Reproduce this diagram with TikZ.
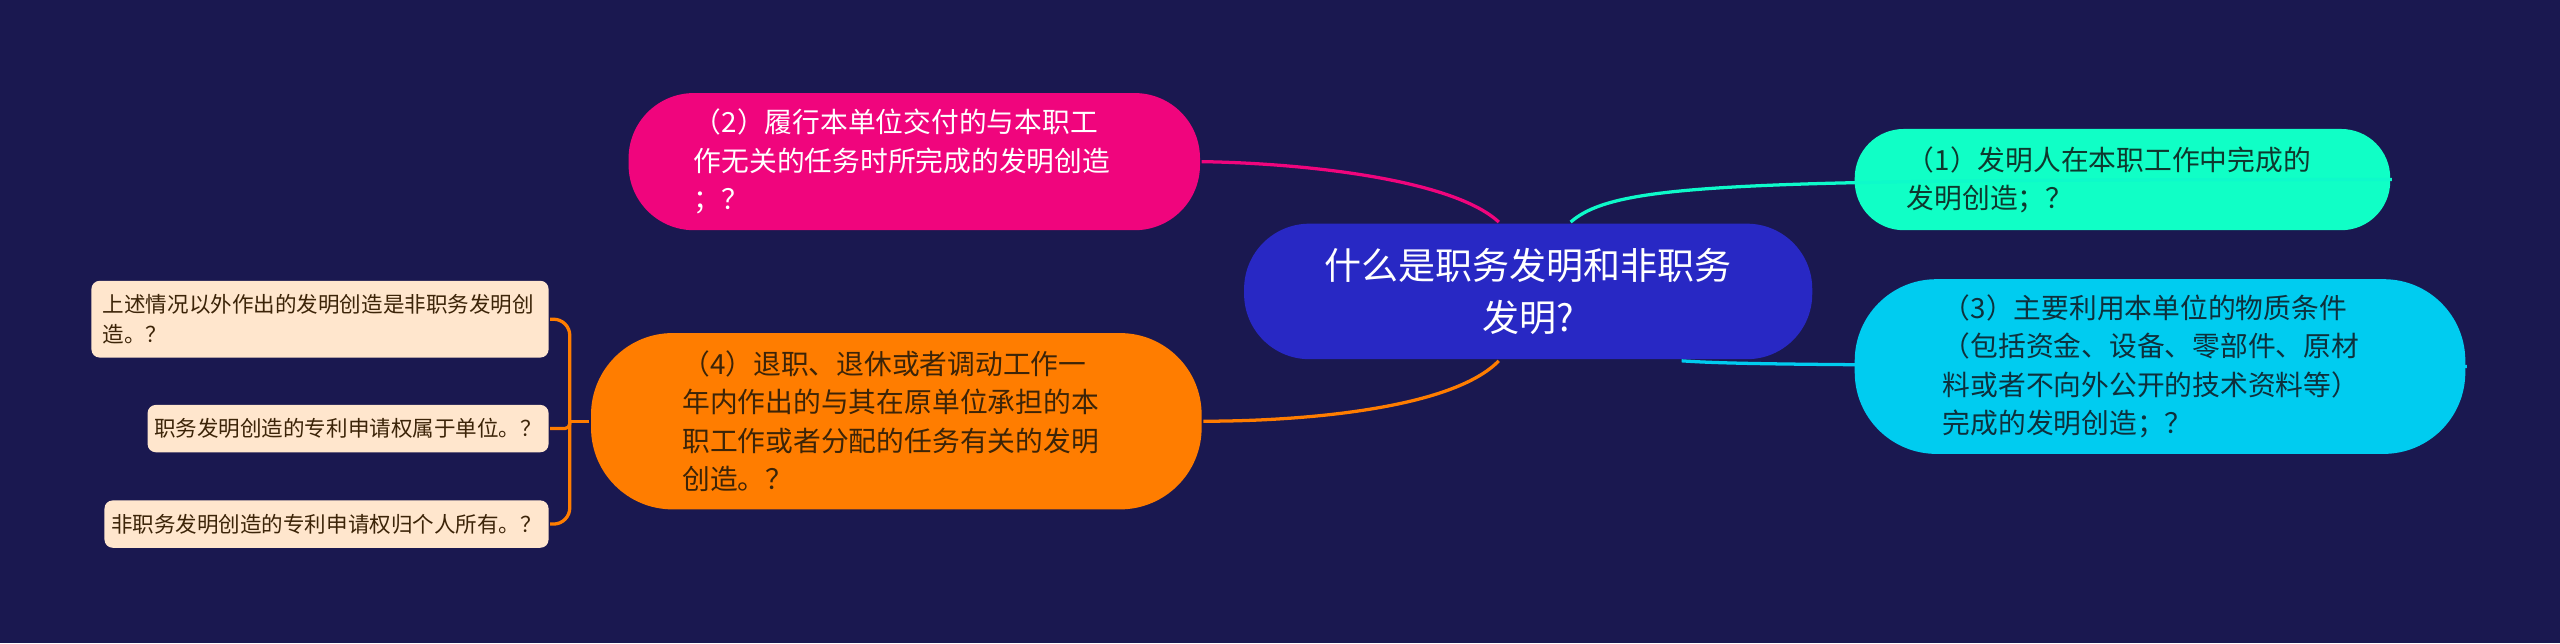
\documentclass[tikz,border=0pt]{standalone}
\usepackage{fontspec}
\setmainfont{Noto Sans CJK SC}
\definecolor{bgnavy}{RGB}{26,24,80}
\definecolor{rootblue}{RGB}{40,40,196}
\definecolor{pinkbr}{RGB}{240,5,125}
\definecolor{orangebr}{RGB}{255,125,0}
\definecolor{greenbr}{RGB}{16,255,198}
\definecolor{cyanbr}{RGB}{0,204,240}
\definecolor{leafpeach}{RGB}{255,230,205}
\definecolor{darkbrown}{RGB}{60,36,8}
\definecolor{darkteal}{RGB}{14,56,46}
\definecolor{darkcyan}{RGB}{14,48,60}
\begin{document}
\begin{tikzpicture}[x=1pt,y=-1pt,line width=2pt,font=\fontsize{17}{23.5}\selectfont]
	\tikzstyle{every node}=[inner sep=0pt,align=left]
	\tikzstyle{RT}=[fill=rootblue,text=white,rounded corners=40pt,minimum width=348pt,minimum height=83pt,align=center,font=\fontsize{22.7}{32}\selectfont] % RT = root topic
	\tikzstyle{BR}=[rounded corners=40pt] % BR = branch topic
	\tikzstyle{LF}=[fill=leafpeach,text=darkbrown,rounded corners=5pt,inner xsep=4pt,minimum height=29pt,anchor=east,font=\fontsize{13.2}{18}\selectfont] % LF = leaf topic
	\fill[bgnavy] (0,0) rectangle (1568,394);
	\useasboundingbox (0,0) rectangle (1568,394);
	% topics
	\node(root)[RT] at (936,178.5) {什么是职务发明和非职务\\发明?};
	\node(b2)[BR,fill=pinkbr,text=white,text width=270pt,minimum width=350pt,minimum height=84pt] at (560,99) {（2）履行本单位交付的与本职工\\作无关的任务时所完成的发明创造\\；？};
	\node(b4)[BR,fill=orangebr,text=darkbrown,text width=262pt,minimum width=374pt,minimum height=108pt,rounded corners=50pt] at (549,258) {（4）退职、退休或者调动工作一\\年内作出的与其在原单位承担的本\\职工作或者分配的任务有关的发明\\创造。？};
	\node(b1)[BR,fill=greenbr,text=darkteal,text width=264pt,minimum width=328pt,minimum height=62pt,rounded corners=30pt] at (1300,110) {（1）发明人在本职工作中完成的\\发明创造；？};
	\node(b3)[BR,fill=cyanbr,text=darkcyan,text width=266pt,minimum width=374pt,minimum height=107pt,rounded corners=50pt] at (1323,224.5) {（3）主要利用本单位的物质条件\\（包括资金、设备、零部件、原材\\料或者不向外公开的技术资料等）\\完成的发明创造；？};
	\node(l1)[LF,text width=266pt,inner xsep=7pt,minimum height=47pt] at (337,195.5) {上述情况以外作出的发明创造是非职务发明创\\造。？};
	\node(l2)[LF] at (337,262.5) {职务发明创造的专利申请权属于单位。？};
	\node(l3)[LF] at (337,321) {非职务发明创造的专利申请权归个人所有。？};
	% connectors
	\draw[pinkbr] ([xshift=-18pt]root.north) .. controls (890,110) and (800,100) .. (b2.east);
	\draw[greenbr!90!cyanbr] ([xshift=26pt]root.north) .. controls (990,112) and (1060,110) .. (b1.east);
	\draw[orangebr] ([xshift=-18pt]root.south) .. controls (890,250) and (800,258) .. (b4.east);
	\draw[cyanbr] ([xshift=94pt]root.south) .. controls (1060,223) and (1100,224) .. (b3.east);
	\coordinate (jn) at (349,258);
	\draw[orangebr] (b4.west) -- (jn);
	\draw[orangebr,rounded corners=10pt] (jn) |- (l1.east);
	\draw[orangebr,rounded corners=3pt] (jn) |- (l2.east);
	\draw[orangebr,rounded corners=10pt] (jn) |- (l3.east);
\end{tikzpicture}
\end{document}
